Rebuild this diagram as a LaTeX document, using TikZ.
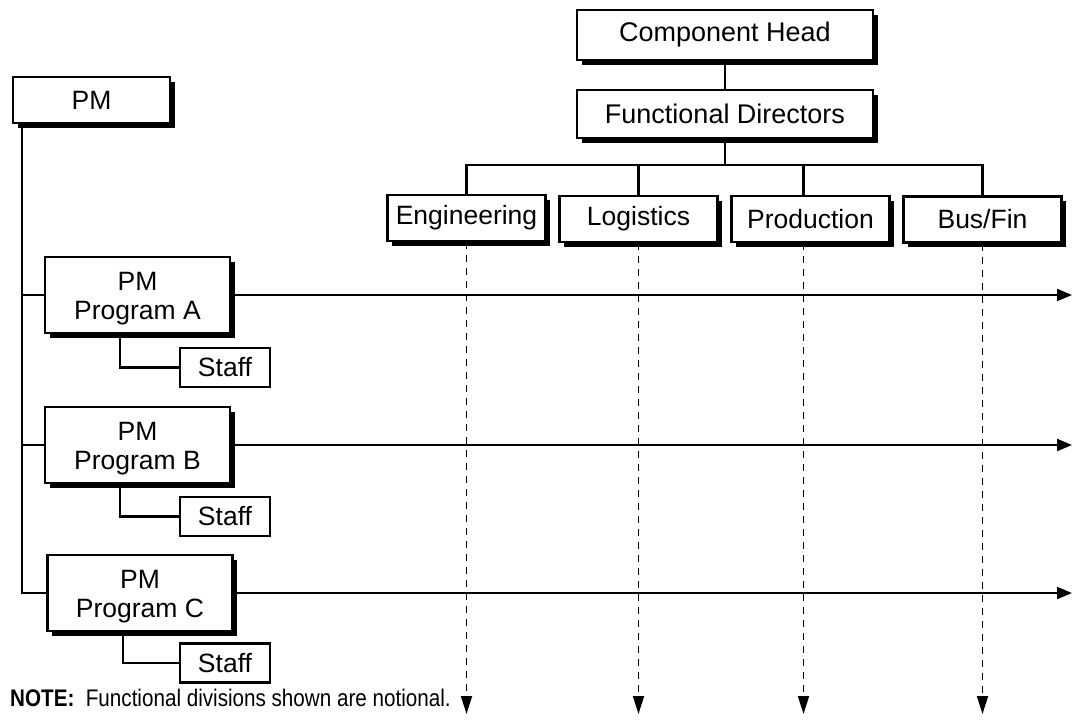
\documentclass[tikz,border=0pt]{standalone}
\usepackage{fontspec}
\usepackage{graphicx}
\setmainfont{Liberation Sans}
\usetikzlibrary{shadows,arrows.meta,calc,backgrounds}
\begin{document}
\begin{tikzpicture}[x=1pt,y=-1pt,
  box/.style={draw, line width=2.3pt, fill=white, inner sep=0pt, align=center,
    font=\fontsize{26.5}{29.5}\selectfont},
  sbox/.style={box, drop shadow={shadow xshift=4.5pt, shadow yshift=-4.5pt, opacity=1, fill=black}},
  fbox/.style={sbox, minimum width=158pt, minimum height=46pt},
  pbox/.style={sbox, minimum width=185pt, minimum height=76pt},
  ptext/.style={inner sep=0pt, align=center, font=\fontsize{26.5}{29.5}\selectfont, yshift=-3.5pt},
  stbox/.style={box, minimum width=90pt, minimum height=39pt},
  ln/.style={line width=2.3pt},
  arr/.style={ln, -{Triangle[length=15pt,width=12pt]}},
  darr/.style={line width=1.9pt, dash pattern=on 7pt off 6pt, -{Triangle[length=18pt,width=11pt]}}]
\useasboundingbox (0,0) rectangle (1072,721);

\node[sbox, minimum width=296pt, minimum height=50pt, font=\fontsize{27}{30}\selectfont] (ch) at (725,35) {Component Head};
\node[sbox, minimum width=296pt, minimum height=48pt, font=\fontsize{27}{30}\selectfont] (fd) at (725,114) {Functional Directors};
\node[sbox, minimum width=157pt, minimum height=46pt] (pm) at (91.5,100) {PM};

\node[fbox] (eng) at (466.5,218) {Engineering};
\node[fbox] (log) at (638.5,219) {Logistics};
\node[fbox] (prod) at (810.5,219) {Production};
\node[fbox] (bus) at (982.5,219.5) {Bus/Fin};

\node[pbox] (pa) at (137.5,295) {};
\node[ptext] (pat) at (pa.center) {PM\\Program A};
\node[pbox] (pb) at (137.5,445) {};
\node[ptext] (pbt) at (pb.center) {PM\\Program B};
\node[pbox] (pc) at (140,593) {};
\node[ptext] (pct) at (pc.center) {PM\\Program C};

\node[stbox] (sa) at (225,367.5) {Staff};
\node[stbox] (sb) at (225,516.5) {Staff};
\node[stbox] (sc) at (225,663) {Staff};

\node[anchor=base west, inner sep=0pt] (note) at (10,706)
  {\scalebox{0.86}[1]{\fontsize{24}{28}\selectfont\textbf{NOTE:}\ \ Functional divisions shown are notional.}};

\coordinate (fdj) at (725,165);
\coordinate (bot) at (0,714);
\coordinate (rgt) at (1072,0);
\coordinate (prodtop) at ([xshift=-7pt]prod.north);
\coordinate (prodbot) at ([xshift=-7pt]prod.south);
\coordinate (pmv) at ([xshift=10pt]pm.south west);

\begin{scope}[on background layer]
\fill[white] (0,0) rectangle (1072,721);
\draw[ln] (ch) -- (fd);
\draw[ln] (fd.south) -- (fdj);
\draw[ln] (eng.north) -- (eng.north |- fdj) -- (bus.north |- fdj) -- (bus.north);
\draw[ln] (log.north) -- (log.north |- fdj);
\draw[ln] (prodtop) -- (prodtop |- fdj);

\draw[darr] (eng.south) -- (eng.south |- bot);
\draw[darr] (log.south) -- (log.south |- bot);
\draw[darr] (prodbot) -- (prodbot |- bot);
\draw[darr] (bus.south) -- (bus.south |- bot);

\draw[ln] (pmv) |- (pc.west);
\draw[ln] (pmv |- pa.west) -- (pa.west);
\draw[ln] (pmv |- pb.west) -- (pb.west);

\draw[arr] (pa.east) -- (pa.east -| rgt);
\draw[arr] (pb.east) -- (pb.east -| rgt);
\draw[arr] (pc.east) -- (pc.east -| rgt);

\draw[ln] ([xshift=-17.5pt]pa.south) |- (sa.west);
\draw[ln] ([xshift=-17.5pt]pb.south) |- (sb.west);
\draw[ln] ([xshift=-17pt]pc.south) |- (sc.west);
\end{scope}
\end{tikzpicture}
\end{document}
